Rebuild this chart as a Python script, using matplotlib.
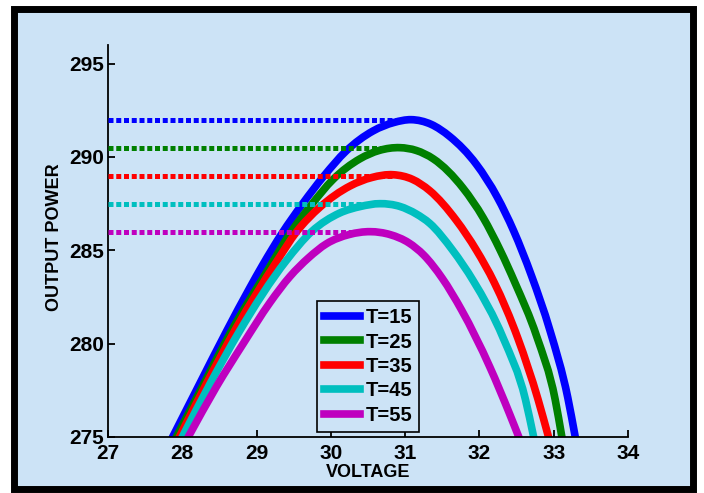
import matplotlib
matplotlib.use('Agg')
import matplotlib.pyplot as plt
from matplotlib.patches import Rectangle, PathPatch
from matplotlib.path import Path
from matplotlib.lines import Line2D

plt.rcParams['font.family'] = ['Liberation Sans', 'DejaVu Sans']
plt.rcParams['font.weight'] = 'bold'

# ---- data ----
voltage_t15 = [27.87, 28.24, 28.60, 28.91, 29.08, 29.34, 29.62, 29.91, 30.20, 30.57, 30.85, 31.08,
               31.35, 31.60, 31.96, 32.24, 32.46, 32.70, 32.95, 33.19, 33.29]
power_t15 = [275.0, 277.9, 280.7, 283.0, 284.2, 285.9, 287.5, 289.0, 290.3, 291.4, 291.85, 292.0,
             291.75, 291.1, 289.6, 287.85, 286.05, 283.65, 280.7, 277.1, 275.0]

voltage_t25 = [27.92, 28.29, 28.65, 29.16, 29.45, 29.74, 30.03, 30.39, 30.65, 30.93,
               31.15, 31.38, 31.78, 32.05, 32.28, 32.48, 32.77, 33.02, 33.11]
power_t25 = [275.0, 277.85, 280.6, 284.0, 285.9, 287.45, 288.8, 289.9, 290.35, 290.5,
             290.35, 289.9, 288.33, 286.75, 285.0, 283.25, 280.4, 277.0, 275.0]

voltage_t35 = [27.96, 28.33, 28.72, 29.27, 29.54, 29.85, 30.26, 30.55, 30.84,
               31.10, 31.33, 31.69, 31.96, 32.20, 32.52, 32.79, 32.93]
power_t35 = [275.0, 277.9, 280.8, 284.4, 286.0, 287.3, 288.45, 288.9, 289.05,
             288.8, 288.2, 286.6, 285.0, 283.27, 280.26, 277.0, 275.0]

voltage_t45 = [28.00, 28.38, 28.76, 29.40, 29.74, 30.12, 30.40, 30.66,
               30.93, 31.15, 31.33, 31.64, 31.92, 32.32, 32.62, 32.73]
power_t45 = [275.0, 277.9, 280.6, 284.45, 286.0, 287.0, 287.35, 287.5,
             287.35, 286.95, 286.45, 285.0, 283.35, 280.3, 277.0, 275.0]

voltage_t55 = [28.08, 28.46, 28.82, 29.18, 29.45, 29.70, 29.94, 30.25, 30.53,
               30.80, 31.05, 31.25, 31.50, 31.76, 32.14, 32.41, 32.53]
power_t55 = [275.0, 277.7, 280.0, 282.2, 283.6, 284.6, 285.35, 285.85, 286.0,
             285.84, 285.4, 284.75, 283.5, 281.8, 278.75, 276.2, 275.0]

series_labels = ['T=15', 'T=25', 'T=35', 'T=45', 'T=55']
peak_voltage = [31.08, 30.93, 30.84, 30.66, 30.53]
peak_power = [292.0, 290.5, 289.0, 287.5, 286.0]
x_ticks = [27, 28, 29, 30, 31, 32, 33, 34]
y_ticks = [275, 280, 285, 290, 295]

colors = ['#0000FF', '#008000', '#FF0000', '#00BFBF', '#BF00BF']
bg = '#CCE3F6'


def smooth_path(xs, ys):
    """Cubic Hermite curve through the read points (drawn as Bezier segments)."""
    n = len(xs)
    slopes = []
    for i in range(n):
        if i == 0:
            m = (ys[1] - ys[0]) / (xs[1] - xs[0])
        elif i == n - 1:
            m = (ys[-1] - ys[-2]) / (xs[-1] - xs[-2])
        else:
            h0 = xs[i] - xs[i - 1]
            h1 = xs[i + 1] - xs[i]
            d0 = (ys[i] - ys[i - 1]) / h0
            d1 = (ys[i + 1] - ys[i]) / h1
            m = (d0 * h1 + d1 * h0) / (h0 + h1)
        slopes.append(m)
    verts = [(xs[0], ys[0])]
    codes = [Path.MOVETO]
    for i in range(n - 1):
        h = xs[i + 1] - xs[i]
        c1 = (xs[i] + h / 3.0, ys[i] + slopes[i] * h / 3.0)
        c2 = (xs[i + 1] - h / 3.0, ys[i + 1] - slopes[i + 1] * h / 3.0)
        verts += [c1, c2, (xs[i + 1], ys[i + 1])]
        codes += [Path.CURVE4, Path.CURVE4, Path.CURVE4]
    return Path(verts, codes)


fig = plt.figure(figsize=(7.04, 4.93), dpi=100)
fig.patch.set_facecolor('white')
frame = Rectangle((13.5 / 704, 1 - 488.5 / 493), (692.5 - 13.5) / 704, (488.5 - 8.5) / 493,
                  transform=fig.transFigure, facecolor=bg, edgecolor='black',
                  linewidth=5.0, zorder=-10)
fig.patches.append(frame)

ax = fig.add_axes([108 / 704, 1 - 437 / 493, 520 / 704, 392 / 493])
ax.set_zorder(1)
ax.set_facecolor('none')

all_v = [voltage_t15, voltage_t25, voltage_t35, voltage_t45, voltage_t55]
all_p = [power_t15, power_t25, power_t35, power_t45, power_t55]
handles = []
for v, p, c, lab in zip(all_v, all_p, colors, series_labels):
    patch = PathPatch(smooth_path(v, p), facecolor='none', edgecolor=c, lw=5.5,
                      capstyle='projecting', joinstyle='round', zorder=2)
    ax.add_patch(patch)
    handles.append(Line2D([], [], color=c, lw=5.5, label=lab))

for pv, pp, c in zip(peak_voltage, peak_power, colors):
    ax.plot([x_ticks[0], pv], [pp, pp], color=c, lw=3.6, linestyle=(0, (1, 0.55)),
            dash_capstyle='butt', zorder=3)

ax.set_xlim(27, 34)
ax.set_ylim(275, 296)
ax.set_xticks(x_ticks)
ax.set_yticks(y_ticks)
ax.spines['top'].set_visible(False)
ax.spines['right'].set_visible(False)
for s in ['left', 'bottom']:
    ax.spines[s].set_linewidth(1.3)
ax.tick_params(direction='in', length=5, width=1.3, labelsize=15, pad=3)
ax.tick_params(axis='x', pad=5)

ax.set_xlabel('VOLTAGE', fontsize=13, fontweight='bold', labelpad=1)
ax.set_ylabel('OUTPUT POWER', fontsize=13, fontweight='bold')
ax.yaxis.set_label_coords(-0.087, 0.51)

leg = ax.legend(handles=handles, loc='lower left', bbox_to_anchor=(0.402, 0.013),
                frameon=True, fancybox=False, edgecolor='black', facecolor=bg,
                framealpha=1, prop={'weight': 'bold', 'size': 14.5}, handlelength=1.8,
                handletextpad=0.25, labelspacing=0.27, borderpad=0.35,
                borderaxespad=0)
leg.get_frame().set_linewidth(1.2)
leg.set_zorder(5)

fig.savefig('out.png', dpi=100, facecolor=fig.get_facecolor())
